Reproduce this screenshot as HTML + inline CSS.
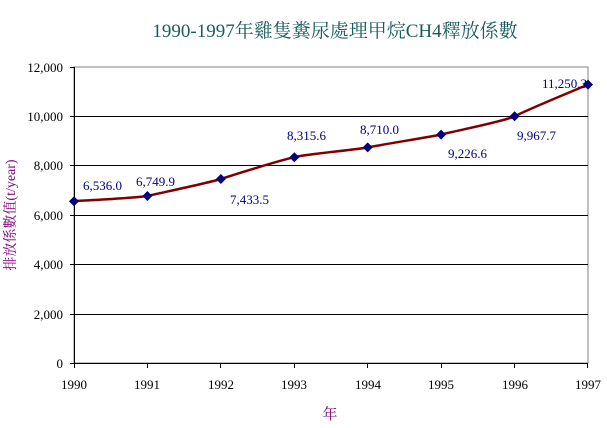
<!DOCTYPE html>
<html><head><meta charset="utf-8"><style>body{margin:0;background:#fff}svg{display:block}</style></head><body>
<svg width="607" height="428" xmlns="http://www.w3.org/2000/svg" font-family="Liberation Serif, 'Noto Serif CJK SC', serif">
<text x="335" y="37" text-anchor="middle" font-size="19" fill="#1a5c5c">1990-1997年雞隻糞尿處理甲烷CH4釋放係數</text>
<rect x="74" y="67" width="514" height="296" fill="none" stroke="#808080" stroke-width="1"/>
<g stroke="#000" stroke-width="1">
<line x1="74" y1="116.5" x2="588" y2="116.5"/>
<line x1="74" y1="165.5" x2="588" y2="165.5"/>
<line x1="74" y1="215.5" x2="588" y2="215.5"/>
<line x1="74" y1="264.5" x2="588" y2="264.5"/>
<line x1="74" y1="314.5" x2="588" y2="314.5"/>
<line x1="74.5" y1="67" x2="74.5" y2="363"/>
<line x1="70" y1="363.5" x2="588" y2="363.5"/>
<line x1="70" y1="67.5" x2="74" y2="67.5"/><line x1="70" y1="116.5" x2="74" y2="116.5"/><line x1="70" y1="165.5" x2="74" y2="165.5"/><line x1="70" y1="215.5" x2="74" y2="215.5"/><line x1="70" y1="264.5" x2="74" y2="264.5"/><line x1="70" y1="314.5" x2="74" y2="314.5"/>
<line x1="74.5" y1="363" x2="74.5" y2="368"/><line x1="147.5" y1="363" x2="147.5" y2="368"/><line x1="220.5" y1="363" x2="220.5" y2="368"/><line x1="294.5" y1="363" x2="294.5" y2="368"/><line x1="367.5" y1="363" x2="367.5" y2="368"/><line x1="441.5" y1="363" x2="441.5" y2="368"/><line x1="514.5" y1="363" x2="514.5" y2="368"/><line x1="587.5" y1="363" x2="587.5" y2="368"/>
</g>
<g font-size="13" fill="#000" text-anchor="end">
<text x="63" y="72">12,000</text><text x="63" y="121">10,000</text><text x="63" y="170">8,000</text><text x="63" y="220">6,000</text><text x="63" y="269">4,000</text><text x="63" y="319">2,000</text><text x="63" y="368">0</text>
</g>
<g font-size="13" fill="#000" text-anchor="middle">
<text x="74" y="389">1990</text><text x="147" y="389">1991</text><text x="221" y="389">1992</text><text x="294" y="389">1993</text><text x="368" y="389">1994</text><text x="441" y="389">1995</text><text x="515" y="389">1996</text><text x="588" y="389">1997</text>
</g>
<text x="330" y="419" text-anchor="middle" font-size="15" fill="#800080">年</text>
<text transform="translate(15,215) rotate(-90)" text-anchor="middle" font-size="14" fill="#800080">排放係數值(t/year)</text>
<path d="M74,201.2 C86,200.3 135,198 147.4,196 C160,193 208,183 220.9,179 C233,175 281,160 294.3,157.2 C307,154 355,150 367.7,147.4 C380,145 429,137 441.1,134.6 C454,131 502,122 514.6,116.3 C527,110 575,90 588,84.6" fill="none" stroke="#800000" stroke-width="2.5"/>
<g fill="#000080">
<path d="M74,196.2l5,5l-5,5l-5,-5z"/><path d="M147.4,191l5,5l-5,5l-5,-5z"/><path d="M220.9,174l5,5l-5,5l-5,-5z"/><path d="M294.3,152.2l5,5l-5,5l-5,-5z"/><path d="M367.7,142.4l5,5l-5,5l-5,-5z"/><path d="M441.1,129.6l5,5l-5,5l-5,-5z"/><path d="M514.6,111.3l5,5l-5,5l-5,-5z"/><path d="M588,79.6l5,5l-5,5l-5,-5z"/>
</g>
<g font-size="13" fill="#000080">
<text x="83" y="190">6,536.0</text><text x="136" y="186">6,749.9</text><text x="230" y="204">7,433.5</text><text x="287" y="140">8,315.6</text><text x="360" y="134">8,710.0</text><text x="448" y="158">9,226.6</text><text x="517" y="140">9,967.7</text><text x="542" y="88">11,250.3</text>
</g>
</svg>
</body></html>
